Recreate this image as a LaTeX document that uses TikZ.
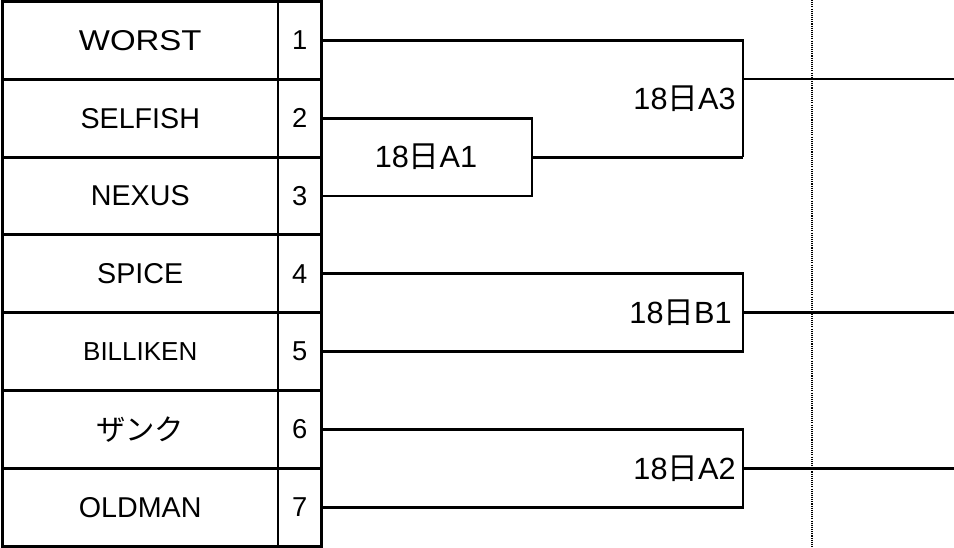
\documentclass[tikz,border=0pt]{standalone}
\usepackage{fontspec}
\setmainfont{Liberation Sans}
\newfontfamily\jpfont{Noto Sans CJK JP}
\usetikzlibrary{calc}
\begin{document}
\begin{tikzpicture}[x=0.75pt,y=-0.75pt,
  teamcell/.style={draw,line width=2.2pt,minimum width=206.6pt,minimum height=58.35pt,inner sep=0pt,
     font=\fontsize{21.5pt}{25pt}\selectfont},
  numcell/.style={draw,line width=2.2pt,minimum width=32.6pt,minimum height=58.35pt,inner sep=0pt,
     font=\fontsize{20.5pt}{24pt}\selectfont},
  br/.style={line width=2.2pt,line join=miter},
  lbl/.style={inner sep=0pt,font=\fontsize{23pt}{27pt}\selectfont},
  dotline/.style={line width=1.2pt,dash pattern=on 0.8pt off 0.8pt}]
\useasboundingbox (0,0) rectangle (954,548);
% teams
\node[teamcell] (t1) at (140.25,40.4) {\scalebox{1.15}[1]{WORST}};
\node[teamcell] (t2) at (140.25,118.2) {SELFISH};
\node[teamcell] (t3) at (140.25,196.0) {NEXUS};
\node[teamcell] (t4) at (140.25,273.8) {SPICE};
\node[teamcell,font=\fontsize{19.5pt}{24pt}\selectfont] (t5) at (140.25,351.6) {BILLIKEN};
\node[teamcell] (t6) at (140.25,429.4) {\jpfont\fontsize{22pt}{26pt}\selectfont ザンク};
\node[teamcell] (t7) at (140.25,507.2) {OLDMAN};
% numbers
\node[numcell] (n1) at (299.75,40.4) {1};
\node[numcell] (n2) at (299.75,118.2) {2};
\node[numcell] (n3) at (299.75,196.0) {3};
\node[numcell] (n4) at (299.75,273.8) {4};
\node[numcell] (n5) at (299.75,351.6) {5};
\node[numcell] (n6) at (299.75,429.4) {6};
\node[numcell] (n7) at (299.75,507.2) {7};
% column coordinates
\coordinate (xA1) at (532,0);
\coordinate (xR) at (743,0);
\coordinate (xE) at (954,0);
% dotted line
\coordinate (dtop) at (812,0);
\coordinate (dbot) at (812,548);
\draw[dotline] (dtop) -- (dbot);
% A1
\draw[br] (n2.east) -- (n2.east -| xA1) -- (n3.east -| xA1) -- (n3.east);
\coordinate (mA1) at ($(n2.east -| xA1)!0.5!(n3.east -| xA1)$);
\draw[br] (mA1) -- (mA1 -| xR);
\node[lbl] (lA1) at (426,157) {18{\jpfont 日}A1};
% A3
\draw[br] (n1.east) -- (n1.east -| xR) -- (mA1 -| xR);
\coordinate (oA3) at (743,79);
\draw[br] (oA3) -- (oA3 -| xE);
\node[lbl,anchor=east] (lA3) at (736,99) {18{\jpfont 日}A3};
% B1
\draw[br] (n4.east) -- (n4.east -| xR) -- (n5.east -| xR) -- (n5.east);
\coordinate (oB1) at ($(n4.east -| xR)!0.5!(n5.east -| xR)$);
\draw[br] (oB1) -- (oB1 -| xE);
\node[lbl,anchor=east] (lB1) at (732,313) {18{\jpfont 日}B1};
% A2
\draw[br] (n6.east) -- (n6.east -| xR) -- (n7.east -| xR) -- (n7.east);
\coordinate (oA2) at ($(n6.east -| xR)!0.5!(n7.east -| xR)$);
\draw[br] (oA2) -- (oA2 -| xE);
\node[lbl,anchor=east] (lA2) at (736,469) {18{\jpfont 日}A2};
\end{tikzpicture}
\end{document}
